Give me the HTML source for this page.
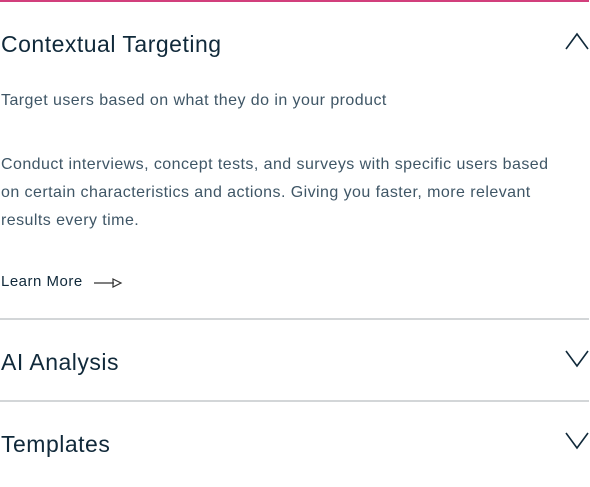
<!DOCTYPE html>
<html><head><meta charset="utf-8"><style>
body{margin:0;width:590px;height:487px;background:#fff;font-family:"Liberation Sans",Arial,sans-serif;overflow:hidden;position:relative}
.abs{position:absolute;white-space:nowrap}
.title{font-size:23px;color:#10293a;left:1px;letter-spacing:0.5px}
.txt{font-size:16px;color:#3f5666;left:1px;letter-spacing:0.44px}
.line{position:absolute;left:0;width:589px;height:2px;background:#d3d6d8}
svg{position:absolute}
</style></head><body>
<div style="position:absolute;left:0;top:0;width:589px;height:2px;background:#d23f7c"></div>
<div class="abs title" style="top:31px">Contextual Targeting</div>
<svg style="left:565px;top:32px" width="24" height="18"><polyline points="1,17 12,2 23,17" fill="none" stroke="#10293a" stroke-width="1.6"/></svg>
<div class="abs txt" style="top:92px">Target users based on what they do in your product</div>
<div class="abs txt" style="top:151px;line-height:28px;white-space:normal;width:589px">Conduct interviews, concept tests, and surveys with specific users based<br>on certain characteristics and actions. Giving you faster, more relevant<br>results every time.</div>
<div class="abs" style="top:273px;left:1px;font-size:15px;color:#10293a;letter-spacing:0.5px">Learn More</div>
<svg style="left:94px;top:277px" width="30" height="12"><line x1="0" y1="6" x2="20" y2="6" stroke="#333" stroke-width="1.2"/><polygon points="19,2 27,6 19,10" fill="none" stroke="#333" stroke-width="1.2"/></svg>
<div class="line" style="top:318px"></div>
<div class="abs title" style="top:349px">AI Analysis</div>
<svg style="left:565px;top:350px" width="24" height="18"><polyline points="1,1 12,16 23,1" fill="none" stroke="#10293a" stroke-width="1.6"/></svg>
<div class="line" style="top:400px"></div>
<div class="abs title" style="top:431px">Templates</div>
<svg style="left:565px;top:432px" width="24" height="18"><polyline points="1,1 12,16 23,1" fill="none" stroke="#10293a" stroke-width="1.6"/></svg>
</body></html>
